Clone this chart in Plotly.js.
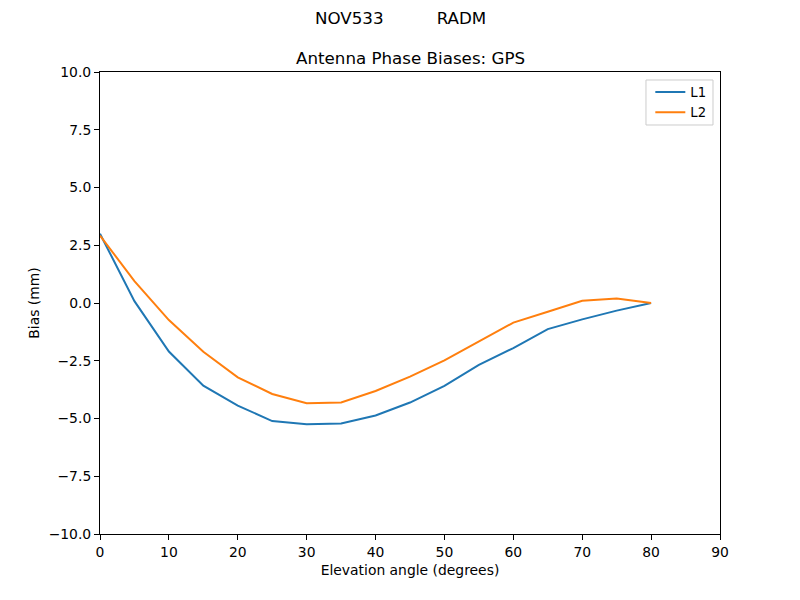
<!DOCTYPE html>
<html>
<head>
<meta charset="utf-8">
<script src="https://cdn.plot.ly/plotly-3.0.1.min.js"></script>
<style>html,body{margin:0;padding:0;background:#fff;}#chart{width:800px;height:600px;}</style>
</head>
<body>
<div id="chart"></div>
<script>
const elevation = [0, 5, 10, 15, 20, 25, 30, 35, 40, 45, 50, 55, 60, 65, 70, 75, 80];
const l1Bias = [3.0, 0.08, -2.1, -3.58, -4.44, -5.11, -5.25, -5.22, -4.87, -4.31, -3.59, -2.68, -1.95, -1.13, -0.71, -0.33, 0.0];
const l2Bias = [2.92, 0.95, -0.74, -2.11, -3.22, -3.94, -4.34, -4.31, -3.81, -3.19, -2.48, -1.65, -0.85, -0.38, 0.10, 0.19, 0.0];
const seriesNames = ["L1", "L2"];
const xTicks = [0, 10, 20, 30, 40, 50, 60, 70, 80, 90];
const yTicks = [-10, -7.5, -5, -2.5, 0, 2.5, 5, 7.5, 10];

const font = "DejaVu Sans, sans-serif";
const traces = [
  {x: elevation, y: l1Bias, name: seriesNames[0], mode: "lines", line: {color: "#1f77b4", width: 2}},
  {x: elevation, y: l2Bias, name: seriesNames[1], mode: "lines", line: {color: "#ff7f0e", width: 2}}
];
const axisCommon = {
  showline: true, linecolor: "#000", linewidth: 1, mirror: true,
  ticks: "outside", ticklen: 5, tickwidth: 1, tickcolor: "#000",
  showgrid: false, zeroline: false,
  tickfont: {family: font, size: 13.9, color: "#000"}
};
const layout = {
  width: 800, height: 600,
  margin: {l: 100, r: 80, t: 72, b: 66},
  paper_bgcolor: "#fff", plot_bgcolor: "#fff",
  font: {family: font, color: "#000"},
  showlegend: true,
  legend: {
    x: 0.986, y: 0.9892, xanchor: "right", yanchor: "top",
    bgcolor: "rgba(0,0,0,0)", borderwidth: 0, tracegroupgap: 0,
    font: {family: font, size: 13.2, color: "#000"}
  },
  shapes: [
    {type: "rect", xref: "paper", yref: "paper", x0: 0.8806, x1: 0.9887, y0: 0.8853, y1: 0.9827,
     line: {color: "#cccccc", width: 1}, fillcolor: "rgba(255,255,255,0.8)", layer: "above"}
  ],
  xaxis: Object.assign({}, axisCommon, {
    range: [0, 90], tickvals: xTicks, ticktext: xTicks.map(String),
    title: {text: "Elevation angle (degrees)", font: {family: font, size: 13.9, color: "#000"}, standoff: 6}
  }),
  yaxis: Object.assign({}, axisCommon, {
    range: [-10, 10], tickvals: yTicks, tickformat: ".1f",
    title: {text: "Bias (mm)", font: {family: font, size: 13.9, color: "#000"}, standoff: 5}
  }),
  annotations: [
    {text: "NOV533\u00a0\u00a0\u00a0\u00a0\u00a0\u00a0\u00a0\u00a0\u00a0\u00a0RADM", xref: "paper", yref: "paper",
     x: 0.4839, y: 1.117, xanchor: "center", yanchor: "middle", showarrow: false,
     font: {family: font, size: 16.7, color: "#000"}},
    {text: "Antenna Phase Biases: GPS", xref: "paper", yref: "paper",
     x: 0.5, y: 1.030, xanchor: "center", yanchor: "middle", showarrow: false,
     font: {family: font, size: 16.7, color: "#000"}}
  ]
};
Plotly.newPlot("chart", traces, layout, {displayModeBar: false, staticPlot: true});
</script>
</body>
</html>
